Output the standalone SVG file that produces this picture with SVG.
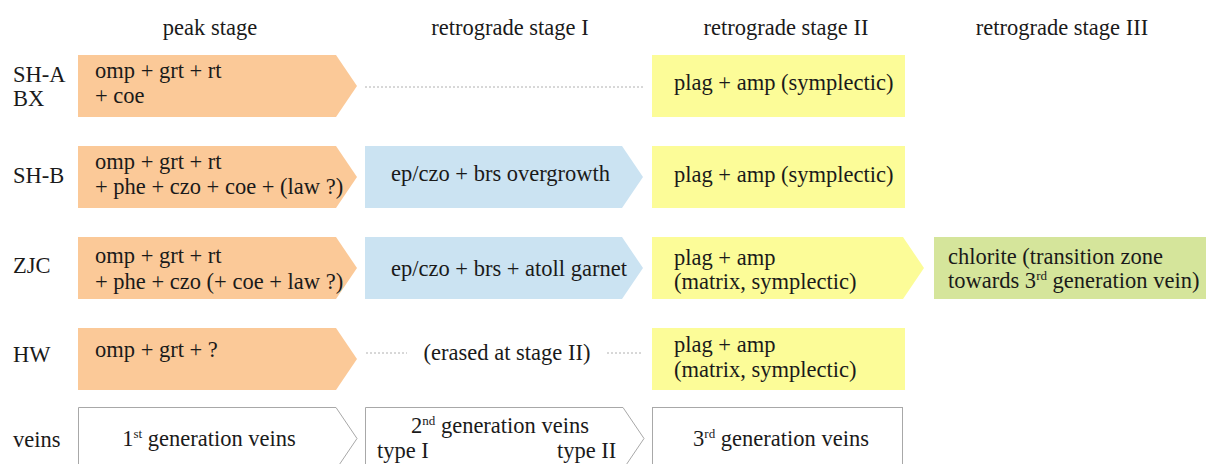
<svg xmlns="http://www.w3.org/2000/svg" width="1206" height="464" viewBox="0 0 1206 464" font-family="'Liberation Serif', 'DejaVu Serif', serif" font-size="22.5">
  <style>
    text { font-family: "Liberation Serif", "Times New Roman", "DejaVu Serif", serif; font-size: 22.5px; fill: #1a1a1a; }
    .mid { text-anchor: middle; }
    .peak { fill: #fbc998; }
    .r1 { fill: #cbe3f2; }
    .r2 { fill: #fcfc98; }
    .r3 { fill: #d5e59b; }
    .vein { fill: #ffffff; stroke: #a8a8a8; stroke-width: 1; }
    .dots { stroke: #b0b0b0; stroke-width: 1; stroke-dasharray: 2 2; fill: none; }
    .sup { font-size: 13px; }
  </style>

  <!-- column headers -->
  <g id="headers">
    <text class="mid" x="210" y="35">peak stage</text>
    <text class="mid" x="510" y="35">retrograde stage I</text>
    <text class="mid" x="786" y="35">retrograde stage II</text>
    <text class="mid" x="1062" y="35">retrograde stage III</text>
  </g>

  <!-- row labels -->
  <g id="row-labels">
    <text x="13" y="82">SH-A</text>
    <text x="13" y="106">BX</text>
    <text x="13" y="183">SH-B</text>
    <text x="13" y="273">ZJC</text>
    <text x="13" y="362">HW</text>
    <text x="13" y="447">veins</text>
  </g>

  <!-- dotted links across erased stages -->
  <g id="connectors">
    <line class="dots" x1="365" y1="87" x2="643" y2="87"/>
    <line class="dots" x1="366" y1="353" x2="407" y2="353"/>
    <line class="dots" x1="607" y1="353" x2="643" y2="353"/>
  </g>

  <!-- SH-A / BX -->
  <g id="sha-peak">
    <polygon class="peak" points="78,55 336,55 357,86 336,117 78,117"/>
    <text x="95" y="78">omp + grt + rt</text>
    <text x="95" y="103">+ coe</text>
  </g>
  <g id="sha-r2">
    <rect class="r2" x="652" y="55" width="253" height="62"/>
    <text x="674" y="90">plag + amp (symplectic)</text>
  </g>

  <!-- SH-B -->
  <g id="shb-peak">
    <polygon class="peak" points="78,146 336,146 357,177 336,208 78,208"/>
    <text x="95" y="169">omp + grt + rt</text>
    <text x="95" y="194">+ phe + czo + coe + (law ?)</text>
  </g>
  <g id="shb-r1">
    <polygon class="r1" points="365,146 622,146 643,177 622,208 365,208"/>
    <text x="391" y="181">ep/czo + brs overgrowth</text>
  </g>
  <g id="shb-r2">
    <rect class="r2" x="652" y="146" width="253" height="62"/>
    <text x="674" y="182">plag + amp (symplectic)</text>
  </g>

  <!-- ZJC -->
  <g id="zjc-peak">
    <polygon class="peak" points="78,237 336,237 357,268 336,299 78,299"/>
    <text x="95" y="263">omp + grt + rt</text>
    <text x="95" y="289">+ phe + czo (+ coe + law ?)</text>
  </g>
  <g id="zjc-r1">
    <polygon class="r1" points="365,237 622,237 643,268 622,299 365,299"/>
    <text x="391" y="276">ep/czo + brs + atoll garnet</text>
  </g>
  <g id="zjc-r2">
    <polygon class="r2" points="652,237 903,237 924,268 903,299 652,299"/>
    <text x="674" y="265">plag + amp</text>
    <text x="674" y="289">(matrix, symplectic)</text>
  </g>
  <g id="zjc-r3">
    <rect class="r3" x="934" y="237" width="272" height="62"/>
    <text x="948" y="264">chlorite (transition zone</text>
    <text x="948" y="288">towards 3<tspan class="sup" dy="-8">rd</tspan><tspan dy="8"> generation vein)</tspan></text>
  </g>

  <!-- HW -->
  <g id="hw-peak">
    <polygon class="peak" points="78,328 336,328 357,359 336,390 78,390"/>
    <text x="95" y="357">omp + grt + ?</text>
  </g>
  <g id="hw-r1">
    <text class="mid" x="507" y="360">(erased at stage II)</text>
  </g>
  <g id="hw-r2">
    <rect class="r2" x="652" y="328" width="253" height="62"/>
    <text x="674" y="352">plag + amp</text>
    <text x="674" y="377">(matrix, symplectic)</text>
  </g>

  <!-- vein generations -->
  <g id="vein-1">
    <polygon class="vein" points="78.5,407.5 336,407.5 357,438.5 336,469.5 78.5,469.5"/>
    <text class="mid" x="209" y="446">1<tspan class="sup" dy="-8">st</tspan><tspan dy="8"> generation veins</tspan></text>
  </g>
  <g id="vein-2">
    <polygon class="vein" points="365.5,407.5 623,407.5 644,438.5 623,469.5 365.5,469.5"/>
    <text class="mid" x="500" y="433">2<tspan class="sup" dy="-8">nd</tspan><tspan dy="8"> generation veins</tspan></text>
    <text x="377" y="458">type I</text>
    <text x="557" y="458">type II</text>
  </g>
  <g id="vein-3">
    <rect class="vein" x="652.5" y="407.5" width="250" height="62"/>
    <text class="mid" x="781" y="446">3<tspan class="sup" dy="-8">rd</tspan><tspan dy="8"> generation veins</tspan></text>
  </g>
</svg>
